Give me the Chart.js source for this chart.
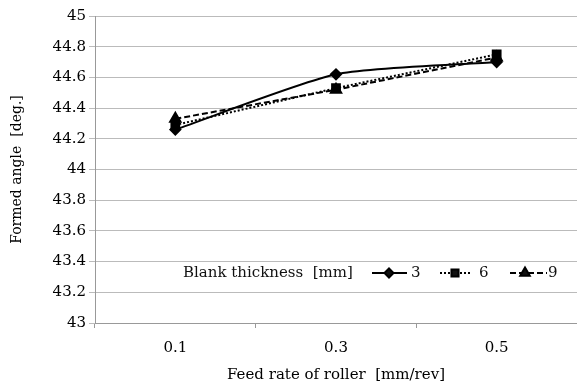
<!DOCTYPE html>
<html>
<head>
<meta charset="utf-8">
<script src="https://cdn.jsdelivr.net/npm/chart.js@4.4.1/dist/chart.umd.min.js"></script>
<style>
  html, body { margin: 0; padding: 0; background: #fff; }
  #wrap { width: 577px; height: 388px; }
</style>
</head>
<body>
<div id="wrap"><canvas id="myChart" width="577" height="388"></canvas></div>
<script>
var feedRates = ['0.1', '0.3', '0.5'];
var thick3 = [44.26, 44.62, 44.70];
var thick6 = [44.29, 44.53, 44.75];
var thick9 = [44.33, 44.52, 44.73];
var seriesNames = ['3', '6', '9'];

var serif = "'DejaVu Serif', 'Liberation Serif', serif";

// legend drawn inside the plot, on one row like the original
var inlineLegend = {
  id: 'inlineLegend',
  afterDatasetsDraw: function (chart) {
    var ctx = chart.ctx;
    var area = chart.chartArea;
    var y = area.bottom - 50;
    ctx.save();
    ctx.font = '15px ' + serif;
    ctx.fillStyle = '#111';
    ctx.textBaseline = 'middle';
    ctx.textAlign = 'left';
    ctx.fillText('Blank thickness  [mm]', 183, y);
    var items = [
      { x0: 372, x1: 407, px: 389, tx: 411 },
      { x0: 440, x1: 472, px: 455, tx: 479 },
      { x0: 510, x1: 547, px: 525, tx: 548 }
    ];
    chart.data.datasets.forEach(function (ds, i) {
      var it = items[i];
      ctx.beginPath();
      ctx.lineWidth = ds.borderWidth;
      ctx.strokeStyle = ds.borderColor;
      ctx.setLineDash(ds.borderDash || []);
      ctx.moveTo(it.x0, y);
      ctx.lineTo(it.x1, y);
      ctx.stroke();
      ctx.setLineDash([]);
      Chart.helpers.drawPoint(ctx, {
        pointStyle: ds.pointStyle,
        radius: ds.pointRadius - 0.5,
        rotation: 0,
        borderWidth: 1
      }, it.px, y);
      ctx.fillStyle = '#111';
      ctx.fillText(ds.label, it.tx, y);
    });
    ctx.restore();
  }
};

var ctx = document.getElementById('myChart').getContext('2d');
var myChart = new Chart(ctx, {
  type: 'line',
  data: {
    labels: feedRates,
    datasets: [{
      label: seriesNames[0],
      data: thick3,
      borderColor: '#000',
      backgroundColor: '#000',
      borderWidth: 2,
      pointStyle: 'rectRot',
      pointRadius: 5,
      tension: 0.2
    }, {
      label: seriesNames[1],
      data: thick6,
      borderColor: '#000',
      backgroundColor: '#000',
      borderWidth: 2,
      borderDash: [2, 2],
      pointStyle: 'rect',
      pointRadius: 5.5
    }, {
      label: seriesNames[2],
      data: thick9,
      borderColor: '#000',
      backgroundColor: '#000',
      borderWidth: 2,
      borderDash: [6, 3],
      pointStyle: 'triangle',
      pointRadius: 6
    }]
  },
  options: {
    responsive: false,
    animation: false,
    layout: { autoPadding: false, padding: { top: 16, right: -3 } },
    plugins: {
      legend: { display: false },
      tooltip: { enabled: false }
    },
    scales: {
      x: {
        offset: true,
        grid: {
          offset: true,
          drawOnChartArea: false,
          drawTicks: true,
          tickLength: 5,
          color: '#999'
        },
        border: { color: '#999' },
        ticks: {
          color: '#000',
          font: { family: serif, size: 15 },
          padding: 11
        },
        title: {
          display: true,
          text: 'Feed rate of roller  [mm/rev]',
          color: '#000',
          font: { family: serif, size: 15 },
          padding: { top: 7 }
        },
        afterFit: function (scale) {
          scale.height = 65;
          scale.paddingLeft = 0;
          scale.paddingRight = 0;
        }
      },
      y: {
        min: 43,
        max: 45,
        grid: {
          color: '#bbb',
          tickLength: 6
        },
        border: { color: '#999' },
        ticks: {
          stepSize: 0.2,
          color: '#000',
          font: { family: serif, size: 15 },
          padding: 3,
          callback: function (v) { return Math.round(v * 10) / 10; }
        },
        title: {
          display: true,
          text: 'Formed angle  [deg.]',
          color: '#000',
          font: { family: serif, size: 14 },
          padding: { top: 9, bottom: 0 }
        },
        afterFit: function (scale) {
          scale.width = 95;
          scale.paddingTop = 0;
          scale.paddingBottom = 0;
        }
      }
    }
  },
  plugins: [inlineLegend]
});
</script>
</body>
</html>
